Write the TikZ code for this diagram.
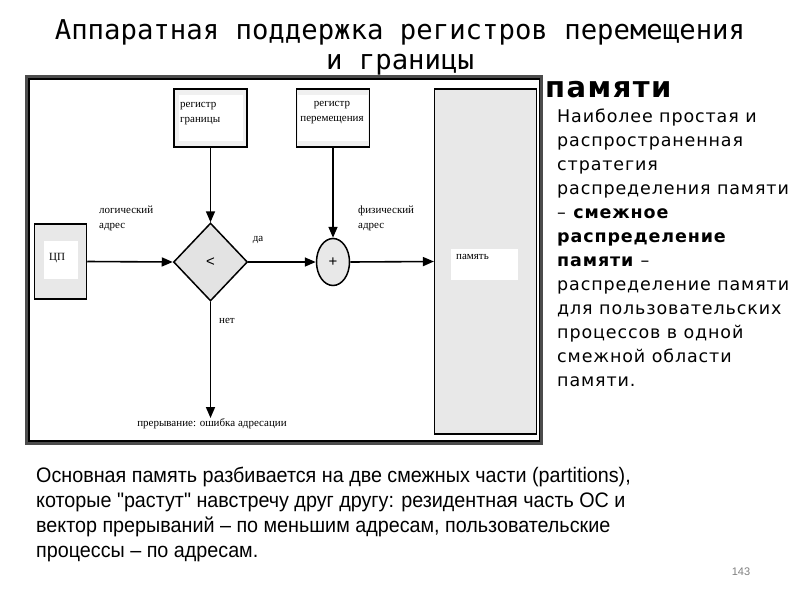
\documentclass[tikz,border=0pt]{standalone}
\usepackage{fontspec}
\setmainfont{Liberation Sans}
\newfontfamily\diagfont{Liberation Serif}
\newfontfamily\titlefont{DejaVu Sans Mono}
\newfontfamily\sidefont[LetterSpace=5]{DejaVu Sans}
\newfontfamily\narrowfont[FakeStretch=0.94]{Liberation Sans}
\usetikzlibrary{positioning, arrows.meta, shapes.geometric}
\newcommand{\flowarrow}{-{Triangle[length=11pt,width=9pt]}}
\newcommand{\diagsize}{\fontsize{11}{15}\selectfont}

\begin{document}
\begin{tikzpicture}[x=1pt, y=-1pt,
    regbox/.style={draw, line width=1.5pt, fill=gray!12, minimum width=73pt, minimum height=58pt},
    whitebox/.style={fill=white, inner sep=0pt},
    lbl/.style={font=\diagfont\diagsize, inner sep=0pt, align=left},
    flow/.style={line width=1.6pt}]
    \useasboundingbox[fill=white] (0,0) rectangle (800,600);

    \node[font=\titlefont\fontsize{27.3}{30}\selectfont, align=center, anchor=base] (title) at (400,69)
        {Аппаратная поддержка регистров перемещения\\и границы};

    \draw[gray!60!black, line width=2.5pt] (26.5,76.5) rectangle (541.5,443.5);
    \draw[line width=1.2pt] (29,79) rectangle (539.5,441);

    \node[draw, line width=1.5pt, fill=gray!18, minimum width=52pt, minimum height=75pt] (cpu) at (60.5,261.5) {};
    \node[whitebox, minimum width=34pt, minimum height=38pt] (cpuin) at (61,260) {};
    \node[lbl, anchor=west] (cpulbl) at (49,258) {ЦП};

    \node[regbox] (limitreg) at (210.5,118) {};
    \node[whitebox, minimum width=64pt, minimum height=46pt] (limitin) at (210.5,118) {};
    \node[lbl, anchor=north west] (limitlbl) at (180,102) {регистр\\границы};

    \node[regbox, draw=black] (relocreg) at (333,118) {};
    \node[whitebox, minimum width=70pt, minimum height=46pt] (relocin) at (333,118) {};
    \node[lbl, align=center, anchor=north] (reloclbl) at (332,101) {регистр\\перемещения};

    \node[diamond, draw, line width=1.5pt, fill=gray!22, minimum width=74pt, minimum height=78pt,
        inner sep=0pt, font=\fontsize{15}{15}\selectfont] (check) at (210.5,262) {<};
    \node[ellipse, draw, line width=1.5pt, fill=gray!18, minimum width=33pt, minimum height=47pt,
        inner sep=0pt, font=\fontsize{15}{15}\selectfont] (adder) at (333,262) {+};

    \node[draw, line width=1.2pt, fill=gray!18, minimum width=102pt, minimum height=345pt] (memory) at (485.5,261.5) {};
    \node[whitebox, minimum width=67pt, minimum height=31pt] (memin) at (484.5,264.5) {};
    \node[lbl, anchor=west] (memlbl) at (456,257) {память};

    \node[lbl, anchor=north] (trap) at (212,418) {прерывание: ошибка адресации};
    \node[lbl, anchor=north west] (logaddr) at (99,206) {логический\\адрес};
    \node[lbl, anchor=north west] (physaddr) at (358,206) {физический\\адрес};
    \node[lbl] (yes) at (258,240) {да};
    \node[lbl] (no) at (227,321) {нет};

    \draw[flow, \flowarrow] (cpu.east) -- (check.west);
    \draw[flow, \flowarrow] (check.east) -- (adder.west);
    \draw[flow, \flowarrow] (adder.east) -- (memory.west);
    \draw[flow, \flowarrow] (limitreg.south) -- (check.north);
    \draw[flow, \flowarrow] (relocreg.south) -- (adder.north);
    \draw[flow, \flowarrow] (check.south) -- (trap.north -| check.south);

    \node[font=\sidefont\bfseries\fontsize{29}{30}\selectfont, anchor=base west, inner sep=0pt] (memword) at (545,97) {памяти};
    \node[font=\sidefont\fontsize{17.5}{24}\selectfont, align=left, anchor=north west, inner sep=0pt] (sidetext) at (557,109)
        {Наиболее простая и\\распространенная\\стратегия\\распределения памяти\\
        – \textbf{смежное}\\\textbf{распределение}\\\textbf{памяти} –\\распределение памяти\\
        для пользовательских\\процессов в одной\\смежной области\\памяти.};

    \node[font=\narrowfont\fontsize{21}{25}\selectfont, align=left, anchor=north west, inner sep=0pt] (bottomtext) at (36,467)
        {Основная память разбивается на две смежных части (partitions),\\
        которые "растут" навстречу друг другу: резидентная часть ОС и\\
        вектор прерываний – по меньшим адресам, пользовательские\\
        процессы – по адресам.};

    \node[text=gray, font=\fontsize{11}{11}\selectfont] (pagenum) at (741,572) {143};
\end{tikzpicture}
\end{document}
